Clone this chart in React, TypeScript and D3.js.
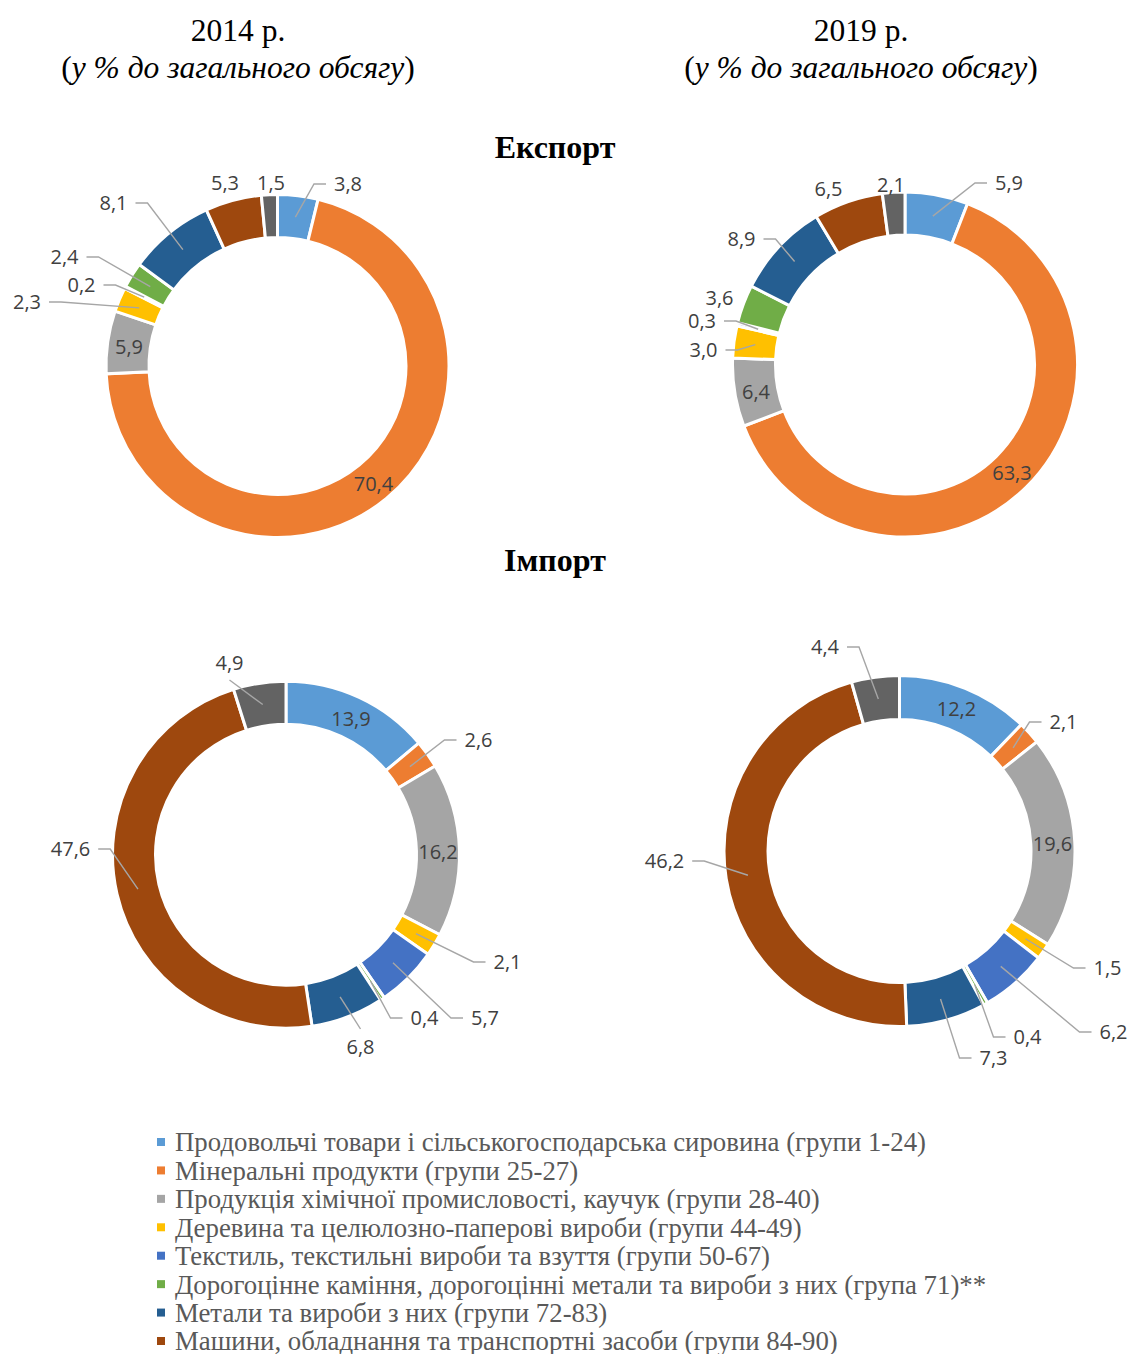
import React from "react";
import * as d3 from "d3";

const categories = [
  "Продовольчі товари і сільськогосподарська сировина (групи 1-24)",
  "Мінеральні продукти (групи 25-27)",
  "Продукція хімічної промисловості, каучук (групи 28-40)",
  "Деревина та целюлозно-паперові вироби (групи 44-49)",
  "Текстиль, текстильні вироби та взуття (групи 50-67)",
  "Дорогоцінне каміння, дорогоцінні метали та вироби з них (група 71)**",
  "Метали та вироби з них (групи 72-83)",
  "Машини, обладнання та транспортні засоби (групи 84-90)",
  "Інші",
];
const colors = ["#5B9BD5", "#ED7D31", "#A5A5A5", "#FFC000", "#4472C4", "#70AD47", "#255E91", "#9E480E", "#636363"];

const export2014 = [3.8, 70.4, 5.9, 2.3, 0.2, 2.4, 8.1, 5.3, 1.5];
const export2019 = [5.9, 63.3, 6.4, 3.0, 0.3, 3.6, 8.9, 6.5, 2.1];
const import2014 = [13.9, 2.6, 16.2, 2.1, 5.7, 0.4, 6.8, 47.6, 4.9];
const import2019 = [12.2, 2.1, 19.6, 1.5, 6.2, 0.4, 7.3, 46.2, 4.4];

const yearTitles = ["2014 р.", "2019 р."];
const subTitle = "у % до загального обсягу";
const sectionTitles = ["Експорт", "Імпорт"];

// layout: label text centre offsets from donut centre, leader side
type Side = "none" | "L" | "R" | "T" | "B";
type Lbl = [number, number, Side];
const layoutE14: Lbl[] = [
  [70.5, -182, "L"], [96, 118, "none"], [-148.5, -19, "none"], [-250.5, -64, "R"],
  [-196, -81, "R"], [-213, -109, "R"], [-164, -163, "R"], [-52.5, -183, "none"], [-6.5, -183, "none"],
];
const layoutE19: Lbl[] = [
  [104, -181.5, "L"], [107, 108.5, "none"], [-149, 27.5, "none"], [-201.5, -14.5, "R"],
  [-203, -43.5, "R"], [-185.5, -66.5, "none"], [-163.5, -125.5, "R"], [-76.5, -175.5, "none"], [-14, -179.5, "none"],
];
const layoutI14: Lbl[] = [
  [65, -135.7, "none"], [192.5, -114.7, "L"], [152, -2.7, "none"], [221.5, 107.3, "L"],
  [199, 163.3, "L"], [138.5, 163.3, "L"], [74.5, 192.3, "T"], [-215.5, -5.7, "R"], [-56.5, -191.7, "B"],
];
const layoutI19: Lbl[] = [
  [57, -142, "none"], [164, -129, "L"], [153, -7, "none"], [208, 117, "L"],
  [214, 181, "L"], [128, 186, "L"], [94, 207, "L"], [-235, 10, "R"], [-74.5, -204, "R"],
];

const charts = [
  { values: export2014, cx: 277.5, cy: 366, outer: 170, inner: 130, layout: layoutE14 },
  { values: export2019, cx: 905, cy: 364.5, outer: 171, inner: 131, layout: layoutE19 },
  { values: import2014, cx: 286, cy: 854.7, outer: 172, inner: 132, layout: layoutI14 },
  { values: import2019, cx: 899.5, cy: 851, outer: 174, inner: 133, layout: layoutI19 },
];

const fmt = (v: number) => v.toFixed(1).replace(".", ",");
const textW = (s: string) => s.split("").reduce((a, c) => a + (c === "," ? 5.2 : 11.4), 0);

const LABEL_FONT = "'Open Sans', sans-serif";
const SERIF = "'Liberation Serif', 'Times New Roman', serif";

function Donut({ values, cx, cy, outer, inner, layout }: any) {
  const pie = d3.pie<number>().sort(null).value((d) => d)(values);
  const arc = d3.arc<d3.PieArcDatum<number>>().innerRadius(inner - 1.5).outerRadius(outer + 1.5);
  const mid = d3.arc<d3.PieArcDatum<number>>().innerRadius((inner + outer) / 2).outerRadius((inner + outer) / 2);
  return (
    <g transform={`translate(${cx},${cy})`}>
      {pie.map((p, i) => (
        <path key={i} d={arc(p) || ""} fill={colors[i]} stroke="#fff" strokeWidth={3} strokeLinejoin="miter" />
      ))}
      {pie.map((p, i) => {
        const [dx, dy, side] = layout[i] as Lbl;
        const s = fmt(values[i]);
        const hw = textW(s) / 2;
        const [mx, my] = mid.centroid(p);
        let pts: [number, number][] | null = null;
        if (side === "L") {
          const xe = dx - hw - 8;
          pts = [[mx, my], [xe - 12, dy], [xe, dy]];
        } else if (side === "R") {
          const xe = dx + hw + 8;
          pts = [[mx, my], [xe + 12, dy], [xe, dy]];
        } else if (side === "T") {
          pts = [[mx, my], [dx, dy - 18]];
        } else if (side === "B") {
          pts = [[mx, my], [dx, dy + 17]];
        }
        return (
          <g key={"l" + i}>
            {pts && (
              <polyline points={pts.map((q) => q.join(",")).join(" ")} fill="none" stroke="#A6A6A6" strokeWidth={1.4} />
            )}
            <text x={dx} y={dy} dy="0.36em" textAnchor="middle" fontFamily={LABEL_FONT} fontSize={20} fill="#404040">
              {s}
            </text>
          </g>
        );
      })}
    </g>
  );
}

export default function App() {
  const legendItems = categories.slice(0, 8);
  const legendY = d3.scaleLinear().domain([0, 7]).range([1142, 1341]);
  return (
    <svg width={1130} height={1354} style={{ position: "absolute", left: 0, top: 0, background: "#fff" }}>
      {yearTitles.map((t, i) => (
        <g key={t}>
          <text x={i === 0 ? 238 : 861} y={41} textAnchor="middle" fontFamily={SERIF} fontSize={31.5} fill="#000">
            {t}
          </text>
          <text x={i === 0 ? 238 : 861} y={78} textAnchor="middle" fontFamily={SERIF} fontSize={31.5} fill="#000">
            (<tspan fontStyle="italic">{subTitle}</tspan>)
          </text>
        </g>
      ))}
      <text x={555} y={158} textAnchor="middle" fontFamily={SERIF} fontWeight="bold" fontSize={32}>
        {sectionTitles[0]}
      </text>
      <text x={555} y={571} textAnchor="middle" fontFamily={SERIF} fontWeight="bold" fontSize={32}>
        {sectionTitles[1]}
      </text>
      {charts.map((c, i) => (
        <Donut key={i} {...c} />
      ))}
      {legendItems.map((name, i) => (
        <g key={name} transform={`translate(0,${legendY(i)})`}>
          <rect x={157} y={-4} width={8} height={8} fill={colors[i]} />
          <text x={175} y={0} dy="0.35em" fontFamily={SERIF} fontSize={26.8} fill="#595959">
            {name}
          </text>
        </g>
      ))}
    </svg>
  );
}
